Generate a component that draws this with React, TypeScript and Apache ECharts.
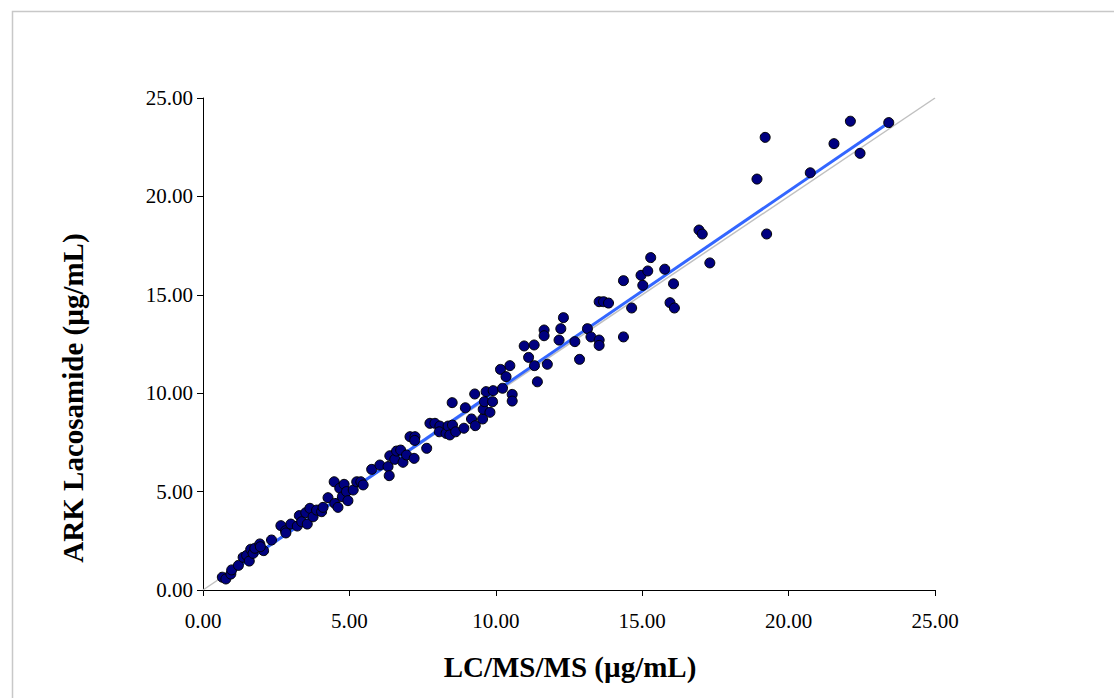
import React, { useEffect, useRef } from "react";
import * as echarts from "echarts";

// LC/MS/MS values (x) and ARK Lacosamide values (y), µg/mL
const lcms: number[] = [
  0.66, 0.78, 0.95, 0.98, 1.21, 1.37, 1.49, 1.58, 1.63, 1.71, 1.77, 1.94, 2.07, 1.96, 2.34,
  2.66, 2.82, 2.83, 3.0, 3.22, 3.29, 3.37, 3.51, 3.56,
  3.65, 3.76, 3.88, 4.05, 4.1, 4.27, 4.48, 4.5, 4.61, 4.67, 4.76, 4.82, 4.9, 4.95, 5.13,
  5.25, 5.39, 5.47, 5.76, 6.04, 6.32, 6.36, 6.38, 6.55, 6.61, 6.75, 6.83, 6.95, 7.07, 7.21, 7.24,
  7.23, 7.64, 7.75, 7.92, 8.09, 8.07, 8.3, 8.37, 8.43, 8.52, 8.63, 8.51, 8.91, 8.96, 9.17, 9.28,
  9.3, 9.55, 9.57, 9.61, 9.67, 9.8, 9.89, 9.91, 10.16, 10.23, 10.35, 10.48, 10.56, 10.56,
  10.97, 11.12, 11.31, 11.32, 11.42,
  11.65, 11.65, 11.76, 12.16, 12.22, 12.31, 12.7, 12.86, 13.13, 13.25, 13.53, 13.53, 13.53, 13.68,
  13.85, 14.36, 14.36, 14.64, 14.96, 15.02, 15.19, 15.29, 15.77, 15.95, 16.07, 16.1,
  16.94, 17.05, 17.31, 18.92, 19.2, 19.25, 20.74, 21.55, 22.11, 22.44, 23.42,
];
const ark: number[] = [
  0.65, 0.56, 0.81, 1.02, 1.25, 1.66, 1.76, 1.47, 2.07, 1.86, 2.12, 2.34, 2.0, 2.2, 2.54,
  3.27, 3.01, 2.9, 3.35, 3.25, 3.78, 3.47, 3.93, 3.35,
  4.15, 3.72, 4.06, 3.98, 4.2, 4.69, 5.5, 4.4, 4.2, 5.17, 4.74, 5.37, 5.0, 4.54, 5.08,
  5.5, 5.5, 5.34, 6.13, 6.35, 6.27, 5.81, 6.82, 6.64, 7.06, 7.11, 6.49, 6.86, 7.79, 6.69, 7.79,
  7.6, 7.2, 8.47, 8.47, 8.33, 8.04, 7.96, 8.33, 7.88, 8.38, 8.04, 9.52, 8.22, 9.26, 8.69, 9.96,
  8.35, 8.69, 9.18, 9.57, 10.08, 9.03, 9.57, 10.13, 11.21, 10.25, 10.84, 11.4, 9.94, 9.6,
  12.4, 11.82, 12.45, 11.4, 10.58,
  13.21, 12.92, 11.47, 12.7, 13.28, 13.84, 12.62, 11.72, 13.28, 12.86, 12.7, 12.43, 14.65, 14.65,
  14.58, 15.72, 12.86, 14.33, 15.99, 15.48, 16.21, 16.89, 16.3, 14.6, 15.56, 14.33,
  18.29, 18.09, 16.62, 20.88, 23.0, 18.09, 21.2, 22.68, 23.82, 22.19, 23.75,
];

// Fitted regression line (ARK = slope * LCMS + intercept)
const fitSlope = 1.016;
const fitIntercept = -0.05;
// Identity line
const identity: [number, number][] = [[0, 0], [25, 25]];

const xTicks = [0, 5, 10, 15, 20, 25];

export default function App() {
  const ref = useRef<HTMLDivElement>(null);
  useEffect(() => {
    if (!ref.current) return;
    const chart = echarts.init(ref.current, undefined, { renderer: "svg" });
    const pts = lcms.map((x, i) => [x, ark[i]]);
    const xmin = Math.min(...lcms);
    const xmax = Math.max(...lcms);
    const fit = [
      [xmin, fitSlope * xmin + fitIntercept],
      [xmax, fitSlope * xmax + fitIntercept],
    ];
    const font = "'Liberation Serif', 'Times New Roman', serif";
    chart.setOption({
      animation: false,
      backgroundColor: "#ffffff",
      grid: { left: 203, right: 179, top: 98, bottom: 108, containLabel: false },
      xAxis: {
        type: "value",
        min: xTicks[0],
        max: xTicks[xTicks.length - 1],
        interval: 5,
        axisLine: { onZero: false, lineStyle: { color: "#000", width: 1 } },
        axisTick: { show: true, inside: false, length: 6, lineStyle: { color: "#000" } },
        splitLine: { show: false },
        axisLabel: {
          color: "#000",
          fontFamily: font,
          fontSize: 21,
          margin: 20,
          formatter: (v: number) => v.toFixed(2),
        },
      },
      yAxis: {
        type: "value",
        min: 0,
        max: 25,
        interval: 5,
        axisLine: { show: true, onZero: false, lineStyle: { color: "#000", width: 1 } },
        axisTick: { show: true, inside: false, length: 6, lineStyle: { color: "#000" } },
        splitLine: { show: false },
        axisLabel: {
          color: "#000",
          fontFamily: font,
          fontSize: 21,
          margin: 10,
          formatter: (v: number) => v.toFixed(2),
        },
      },
      graphic: [
        {
          type: "rect",
          silent: true,
          shape: { x: 12.5, y: 11.5, width: 1300, height: 900 },
          style: { fill: "none", stroke: "#c8c8c8", lineWidth: 1.5 },
          z: -10,
        },
        {
          type: "text",
          x: 570,
          y: 667,
          style: {
            text: "LC/MS/MS (µg/mL)",
            fontFamily: font,
            fontSize: 29,
            fontWeight: "bold",
            fill: "#000",
            align: "center",
            verticalAlign: "middle",
          },
        },
        {
          type: "text",
          x: 73,
          y: 398,
          rotation: Math.PI / 2,
          style: {
            text: "ARK Lacosamide (µg/mL)",
            fontFamily: font,
            fontSize: 29,
            fontWeight: "bold",
            fill: "#000",
            align: "center",
            verticalAlign: "middle",
          },
        },
      ],
      series: [
        {
          type: "line",
          data: identity,
          symbol: "none",
          lineStyle: { color: "#c0c0c0", width: 1.5 },
          z: 1,
          silent: true,
        },
        {
          type: "line",
          data: fit,
          symbol: "none",
          lineStyle: { color: "#3366ff", width: 3 },
          z: 2,
          silent: true,
        },
        {
          type: "scatter",
          data: pts,
          symbol: "circle",
          symbolSize: 10,
          itemStyle: { color: "#000080", borderColor: "#000", borderWidth: 1, opacity: 1 },
          z: 3,
        },
      ],
    });
    return () => chart.dispose();
  }, []);
  return (
    <div
      ref={ref}
      style={{ position: "fixed", left: 0, top: 0, width: 1114, height: 698 }}
    />
  );
}
